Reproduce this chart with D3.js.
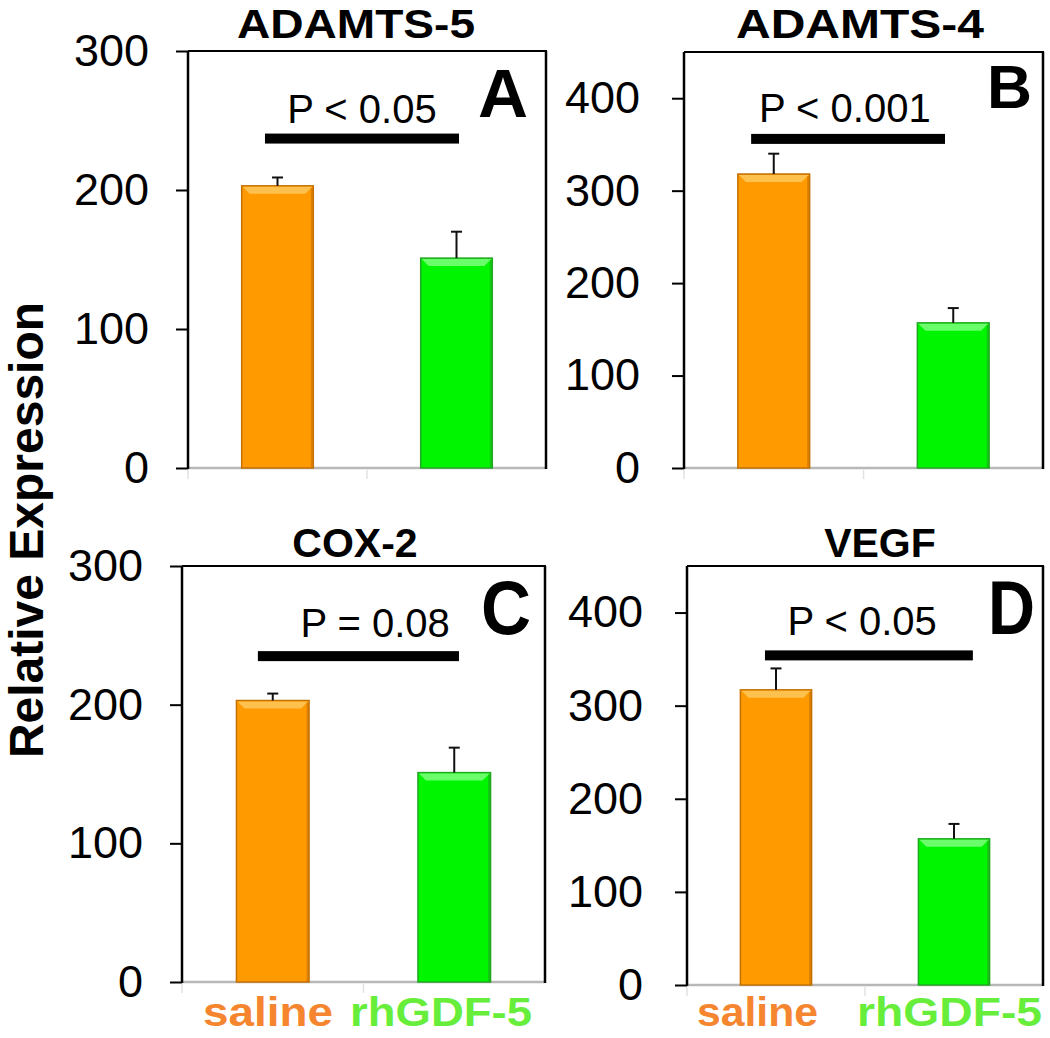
<!DOCTYPE html>
<html><head><meta charset="utf-8">
<script src="https://cdn.jsdelivr.net/npm/d3@7"></script>
<style>
html,body{margin:0;padding:0;background:#fff;}
svg{display:block;font-family:"Liberation Sans",Arial,Helvetica,sans-serif;}
</style></head>
<body>
<svg id="chart" width="1050" height="1038"></svg>
<script>
// ---------- data ----------
const categories = ["saline", "rhGDF-5"];
const panelLetters = ["A", "B", "C", "D"];
const titles = ["ADAMTS-5", "ADAMTS-4", "COX-2", "VEGF"];
const salineMeans = [203, 318, 203, 317];
const gdfMeans = [151, 157, 151, 157];
const salineErr = [6, 22, 5, 23];
const gdfErr = [19, 16, 18, 16];
const pLabels = ["P < 0.05", "P < 0.001", "P = 0.08", "P < 0.05"];
const sigLevels = [237, 356, 235, 354];
const yMaxes = [300, 450, 300, 450];
const tickSets = [[0, 100, 200, 300], [0, 100, 200, 300, 400], [0, 100, 200, 300], [0, 100, 200, 300, 400]];
const yTitle = "Relative Expression";

// ---------- layout ----------
const layout = [
  {x0:188, x1:546, yTop:51, y0:468, title:[356,238,38], sig:[0.215,0.757], pText:[0.486,123], letter:[528,117,68,50], pad:27},
  {x0:684, x1:1043, yTop:52, y0:468, title:[860,248,38], sig:[0.187,0.727], pText:[0.448,122], letter:[1032,108,62,45], pad:32},
  {x0:182, x1:545, yTop:566, y0:982, title:[355,0,557], sig:[0.209,0.763], pText:[0.532,637], letter:[531,634,76,50], pad:27},
  {x0:687, x1:1043, yTop:566, y0:985, title:[880,0,557], sig:[0.219,0.803], pText:[0.492,635], letter:[1035,634,76,47], pad:32}
];
const catLabelPos = [[203,333],[350,532],[697,818],[857,1042]]; // [start,end]
const catColors = ["#f5862f", "#66ee3a"];
const barFill = ["#ff9a00", "#00f500"];
const barStroke = ["#c47000", "#22a822"];
const barHi = ["#ffc85a", "#7cff7c"];

const svg = d3.select("#chart");

layout.forEach((L, i) => {
  const g = svg.append("g");
  const x = d3.scaleBand().domain(categories).range([L.x0, L.x1]).paddingInner(0.6).paddingOuter(0.3);
  const y = d3.scaleLinear().domain([0, yMaxes[i]]).range([L.y0, L.yTop]);

  // baseline (gray) and category ticks
  g.append("line").attr("x1", L.x0).attr("x2", L.x1).attr("y1", L.y0).attr("y2", L.y0)
    .attr("stroke", "#b8b8b8").attr("stroke-width", 2.5);
  const step = x.step();
  [L.x0, L.x0 + step].forEach(xx => {
    g.append("line").attr("x1", xx).attr("x2", xx).attr("y1", L.y0 + 2).attr("y2", L.y0 + 11)
      .attr("stroke", "#e2e2e2").attr("stroke-width", 1.5);
  });

  // frame top/right
  g.append("line").attr("x1", L.x0).attr("x2", L.x1 + 1).attr("y1", L.yTop).attr("y2", L.yTop)
    .attr("stroke", "#000").attr("stroke-width", 2);
  g.append("line").attr("x1", L.x1).attr("x2", L.x1).attr("y1", L.yTop).attr("y2", L.y0 + 1)
    .attr("stroke", "#000").attr("stroke-width", 2.5);

  // y axis
  const ax = g.append("g").attr("transform", `translate(${L.x0},0)`)
    .call(d3.axisLeft(y).tickValues(tickSets[i]).tickSize(12).tickPadding(L.pad).tickSizeOuter(0));
  ax.select(".domain").attr("stroke-width", 2.5).attr("d", `M0,${L.yTop}V${L.y0 + 1}`);
  ax.selectAll(".tick line").attr("stroke-width", 2);
  ax.selectAll(".tick text").attr("font-size", 45).attr("fill", "#000")
    .attr("font-family", '"Liberation Sans",Arial,sans-serif');

  // bars
  const means = [salineMeans[i], gdfMeans[i]];
  const errs = [salineErr[i], gdfErr[i]];
  const bw = x.bandwidth();
  categories.forEach((c, j) => {
    const bx = x(c), by = y(means[j]), bh = y(0) - y(means[j]);
    g.append("rect").attr("x", bx).attr("y", by).attr("width", bw).attr("height", bh)
      .attr("fill", barFill[j]).attr("stroke", barStroke[j]).attr("stroke-width", 1.5);
    // bevel highlight
    g.append("path")
      .attr("d", `M${bx + 1},${by + 1}H${bx + bw - 1}L${bx + bw - 8},${by + 8}H${bx + 8}Z`)
      .attr("fill", barHi[j]).attr("opacity", 0.85);
    g.append("line").attr("x1", bx + bw - 1.5).attr("x2", bx + bw - 1.5).attr("y1", by + 2).attr("y2", y(0))
      .attr("stroke", barStroke[j]).attr("stroke-width", 2).attr("opacity", 0.6);
    // error bar
    const cx = bx + bw / 2;
    g.append("line").attr("x1", cx).attr("x2", cx).attr("y1", by).attr("y2", y(means[j] + errs[j]))
      .attr("stroke", "#111").attr("stroke-width", 2);
    g.append("line").attr("x1", cx - 5.5).attr("x2", cx + 5.5)
      .attr("y1", y(means[j] + errs[j])).attr("y2", y(means[j] + errs[j]))
      .attr("stroke", "#111").attr("stroke-width", 2);
  });

  // significance bar
  const w = L.x1 - L.x0;
  g.append("rect").attr("x", L.x0 + L.sig[0] * w).attr("y", y(sigLevels[i]) - 5)
    .attr("width", (L.sig[1] - L.sig[0]) * w).attr("height", 10).attr("fill", "#000");
  g.append("text").attr("x", L.x0 + L.pText[0] * w).attr("y", L.pText[1])
    .attr("text-anchor", "middle").attr("font-size", 40).text(pLabels[i]);

  // panel letter
  g.append("text").attr("x", L.letter[0]).attr("y", L.letter[1]).attr("text-anchor", "end")
    .attr("font-weight", "bold").attr("font-size", L.letter[2])
    .attr("textLength", L.letter[3]).attr("lengthAdjust", "spacingAndGlyphs").text(panelLetters[i]);

  // title
  const t = g.append("text").attr("x", L.title[0]).attr("y", L.title[2]).attr("font-weight", "bold")
    .attr("text-anchor", "middle").attr("font-size", 41).text(titles[i]);
  if (L.title[1] > 0) t.attr("textLength", L.title[1]).attr("lengthAdjust", "spacingAndGlyphs");
});

// category labels under bottom panels
[2, 3].forEach((pi, k) => {
  categories.forEach((c, j) => {
    const pos = catLabelPos[k * 2 + j];
    svg.append("text").attr("x", pos[0]).attr("y", 1026).attr("font-weight", "bold")
      .attr("font-size", 41).attr("fill", catColors[j])
      .attr("textLength", pos[1] - pos[0]).attr("lengthAdjust", "spacingAndGlyphs").text(c);
  });
});

// y-axis title
svg.append("text").attr("transform", "translate(43,530) rotate(-90)").attr("text-anchor", "middle")
  .attr("font-weight", "bold").attr("font-size", 48).text(yTitle);
</script>
</body></html>
